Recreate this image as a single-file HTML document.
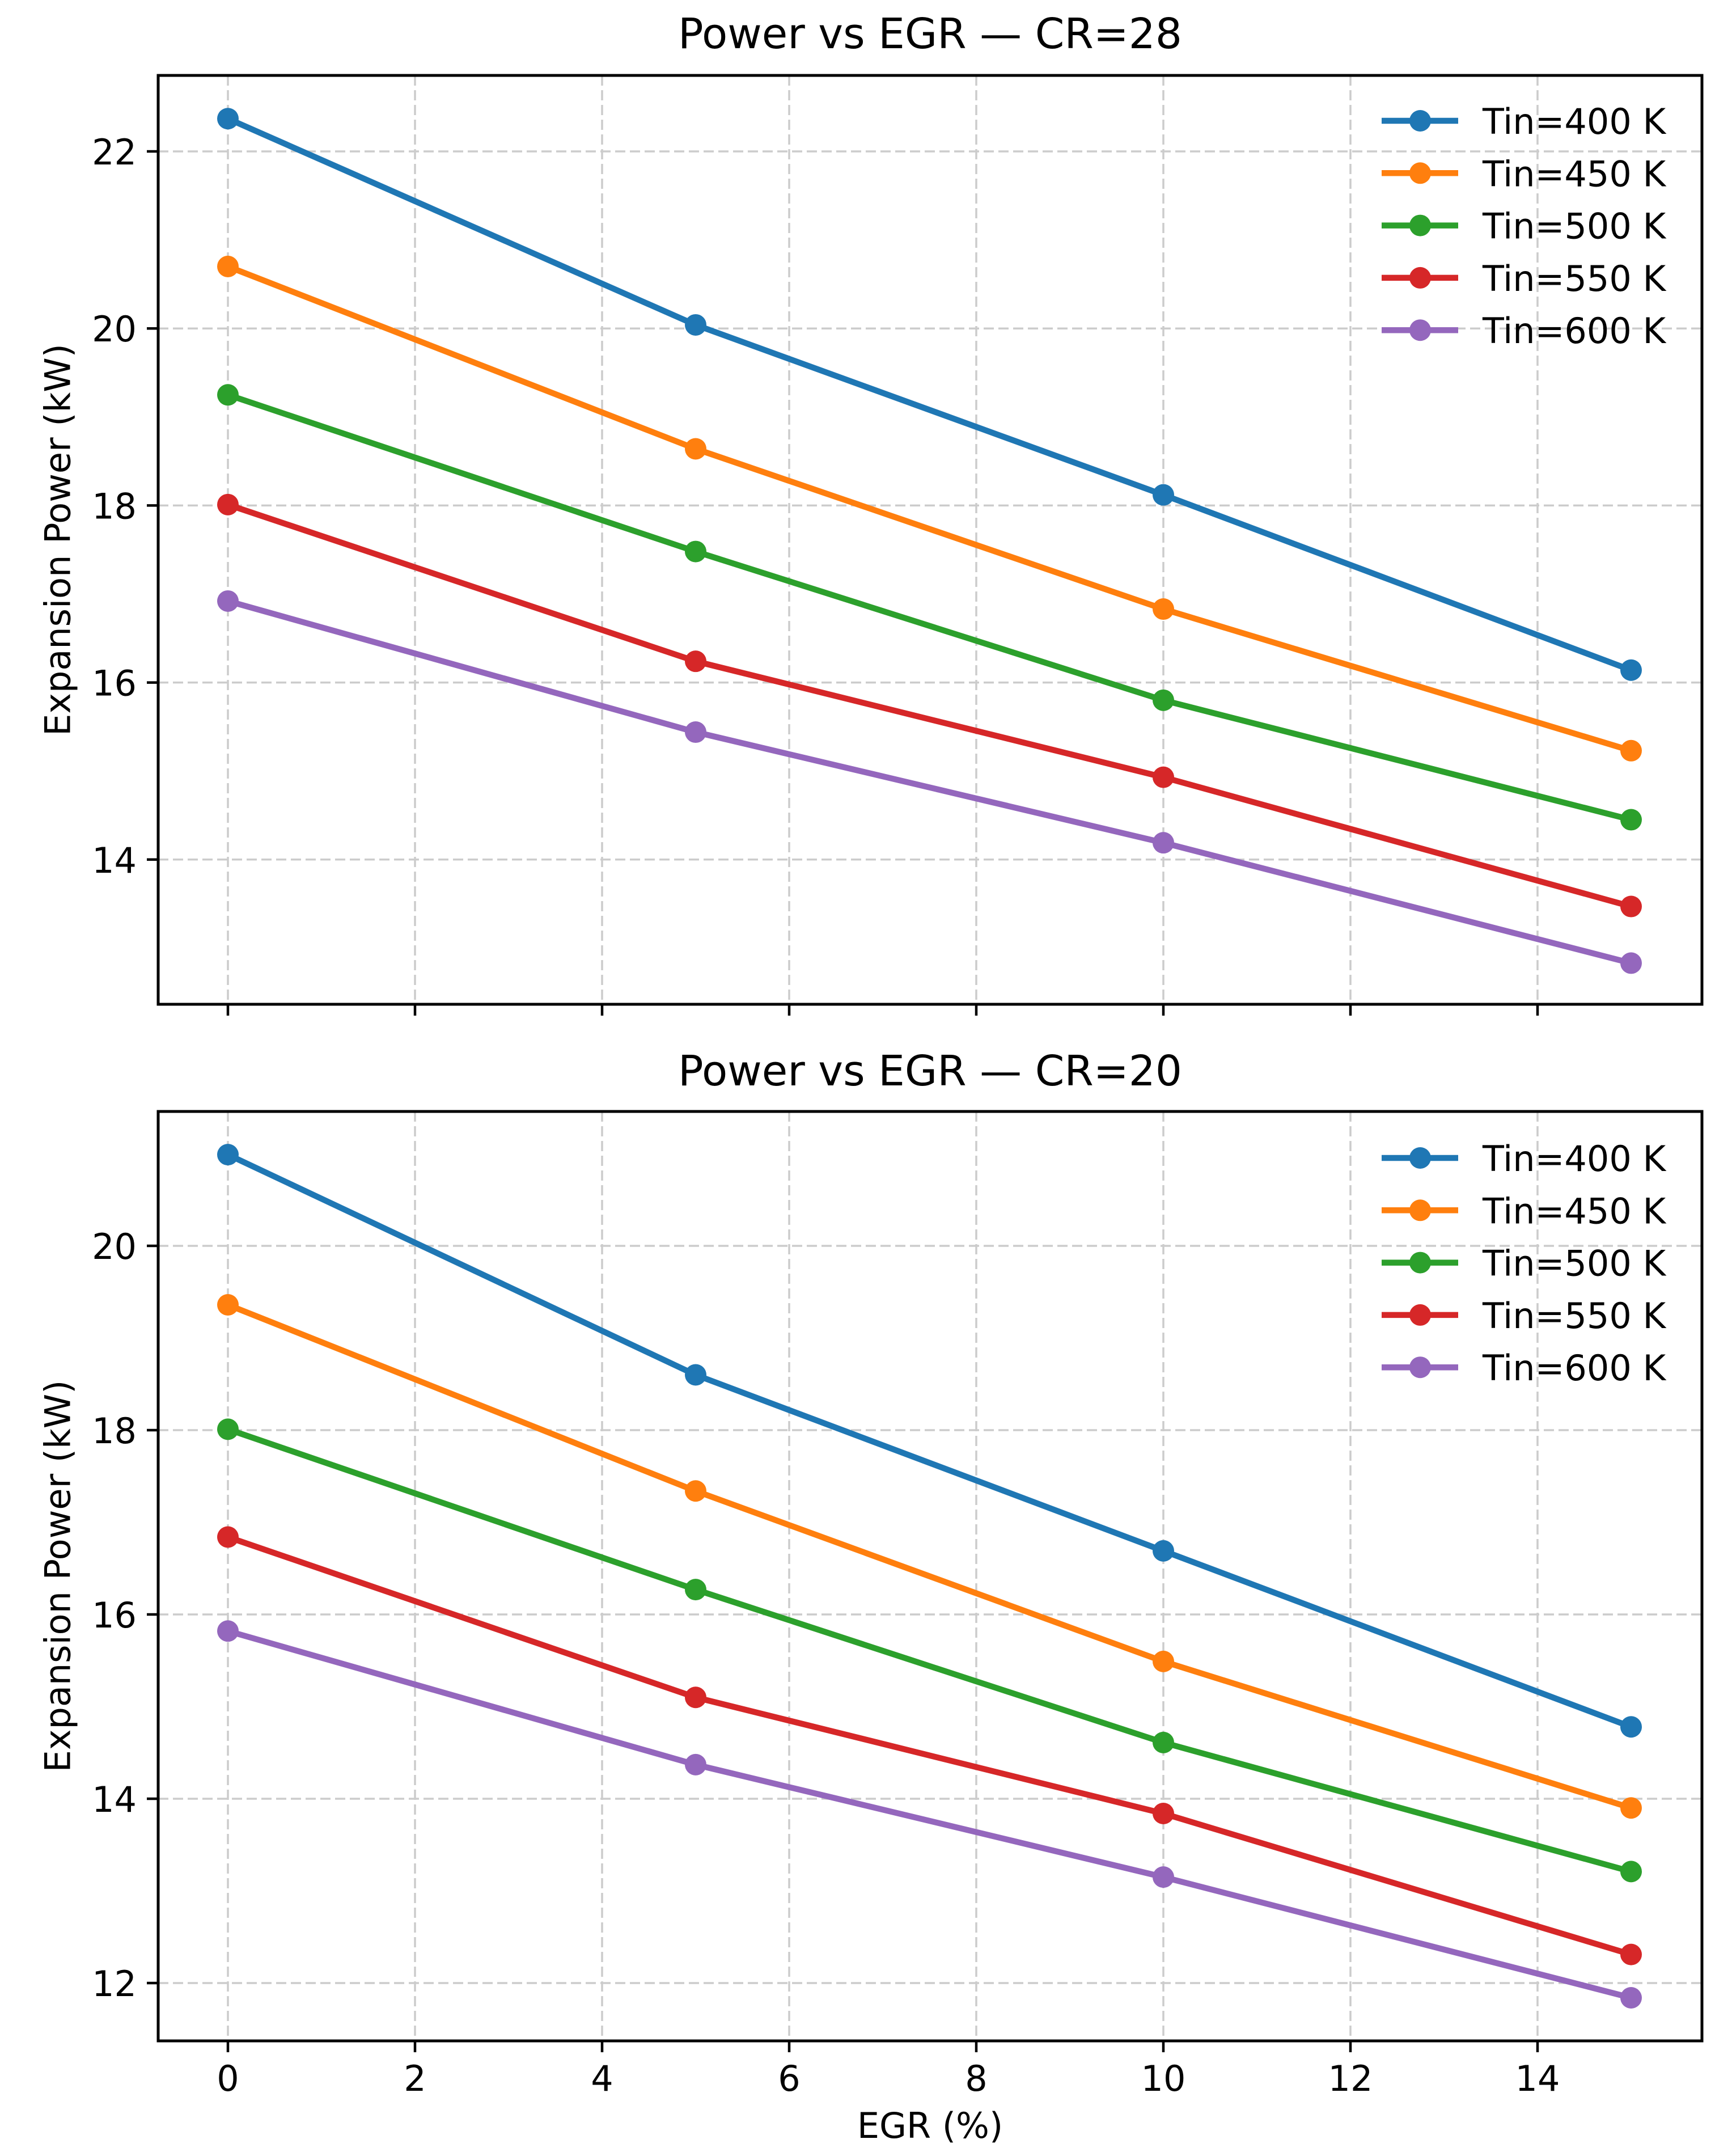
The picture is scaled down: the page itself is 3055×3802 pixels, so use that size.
<!DOCTYPE html>
<html><head><meta charset="utf-8"><style>
html,body{margin:0;padding:0;background:#fff;}
svg{display:block;font-family:"DejaVu Sans","Liberation Sans",sans-serif;}
</style></head><body>
<svg id="fig" width="3055" height="3802" viewBox="0 0 3055 3802" xmlns="http://www.w3.org/2000/svg"></svg>
<script>
const egr = [0, 5, 10, 15];
const seriesLabels = ["Tin=400 K","Tin=450 K","Tin=500 K","Tin=550 K","Tin=600 K"];
const colors = ["#1f77b4","#ff7f0e","#2ca02c","#d62728","#9467bd"];
const cr28_400 = [22.37, 20.04, 18.12, 16.14];
const cr28_450 = [20.70, 18.64, 16.83, 15.23];
const cr28_500 = [19.25, 17.48, 15.80, 14.45];
const cr28_550 = [18.01, 16.24, 14.93, 13.47];
const cr28_600 = [16.92, 15.44, 14.19, 12.83];
const cr20_400 = [20.99, 18.60, 16.69, 14.78];
const cr20_450 = [19.36, 17.34, 15.49, 13.90];
const cr20_500 = [18.01, 16.27, 14.61, 13.21];
const cr20_550 = [16.84, 15.10, 13.84, 12.31];
const cr20_600 = [15.82, 14.37, 13.15, 11.84];
const xTicks = [0,2,4,6,8,10,12,14];
const yTicksTop = [14,16,18,20,22];
const yTicksBottom = [12,14,16,18,20];

const NS="http://www.w3.org/2000/svg";
const svg=document.getElementById('fig');
function mk(tag, attrs, parent){const e=document.createElementNS(NS,tag);for(const k in attrs)e.setAttribute(k,attrs[k]);(parent||svg).appendChild(e);return e;}

const L=279, R=3002;
const xScale = v => 402 + v*165;

function panel(cfg){
  const g=mk('g',{});
  
  
  const yScale = v => cfg.y0px + (cfg.y0v - v)*cfg.ppu;
  xTicks.forEach(t=>{
    const ln=mk('line',{x1:xScale(t),x2:xScale(t),y1:cfg.top,y2:cfg.bottom,stroke:'#cccccc','stroke-width':3.5,'stroke-dasharray':'18 8'},g);
    
    
  });
  cfg.yTicks.forEach(t=>{
    const ln=mk('line',{x1:L,x2:R,y1:yScale(t),y2:yScale(t),stroke:'#cccccc','stroke-width':3.5,'stroke-dasharray':'18 8'},g);
    
    
  });
  cfg.series.forEach((vals,i)=>{
    const pts=vals.map((v,j)=>xScale(egr[j])+','+yScale(v)).join(' ');
    const pl=mk('polyline',{points:pts,fill:'none',stroke:colors[i],'stroke-width':10.5,'stroke-linejoin':'round','stroke-linecap':'round'},g);
    
    
    vals.forEach((v,j)=>{
      const c=mk('circle',{cx:xScale(egr[j]),cy:yScale(v),r:19,fill:colors[i]},g);
      
      
    });
  });
  const fr=mk('rect',{x:L,y:cfg.top,width:R-L,height:cfg.bottom-cfg.top,fill:'none',stroke:'#000','stroke-width':5},g);
  
  
  xTicks.forEach(t=>{
    const tk=mk('line',{x1:xScale(t),x2:xScale(t),y1:cfg.bottom,y2:cfg.bottom+20,stroke:'#000','stroke-width':4.5},g);
    
    
    if(cfg.xLabels){
      const tx=mk('text',{x:xScale(t),y:cfg.bottom+88,'font-size':62,'text-anchor':'middle',fill:'#000'},g);
      tx.textContent=t;
      
      
    }
  });
  cfg.yTicks.forEach(t=>{
    const tk=mk('line',{x1:L-20,x2:L,y1:yScale(t),y2:yScale(t),stroke:'#000','stroke-width':4.5},g);
    
    
    const tx=mk('text',{x:L-38,y:yScale(t)+23,'font-size':62,'text-anchor':'end',fill:'#000'},g);
    tx.textContent=t;
    
    
  });
  const ti=mk('text',{x:(L+R)/2,y:cfg.titleY,'font-size':74,'text-anchor':'middle',fill:'#000'},g);
  ti.textContent=cfg.title;
  
  
  const cy=(cfg.top+cfg.bottom)/2;
  const yl=mk('text',{x:102,y:cy,'font-size':62,'text-anchor':'middle',fill:'#000',transform:'rotate(-90 102 '+cy+')','dominant-baseline':'central'},g);
  yl.textContent='Expansion Power (kW)';
  
  
  seriesLabels.forEach((lab,i)=>{
    const ly=cfg.legY+i*92.3;
    const lg=mk('g',{},g);
    
    
    mk('line',{x1:2437,x2:2572,y1:ly,y2:ly,stroke:colors[i],'stroke-width':10.5},lg);
    mk('circle',{cx:2505,cy:ly,r:19,fill:colors[i]},lg);
    const tx=mk('text',{x:2615,y:ly+23,'font-size':62,fill:'#000'},lg);
    tx.textContent=lab;
  });
}

panel({name:'panel-cr28',top:133,bottom:1771,y0px:267,y0v:22,ppu:156.1,yTicks:yTicksTop,
  series:[cr28_400,cr28_450,cr28_500,cr28_550,cr28_600],title:'Power vs EGR \u2014 CR=28',titleY:85,legY:213,xLabels:false});
panel({name:'panel-cr20',top:1960,bottom:3599,y0px:2197,y0v:20,ppu:162.5,yTicks:yTicksBottom,
  series:[cr20_400,cr20_450,cr20_500,cr20_550,cr20_600],title:'Power vs EGR \u2014 CR=20',titleY:1914,legY:2042,xLabels:true});

const xl=mk('text',{x:(L+R)/2,y:3770,'font-size':62,'text-anchor':'middle',fill:'#000'});
xl.textContent='EGR (%)';


</script>
</body></html>
